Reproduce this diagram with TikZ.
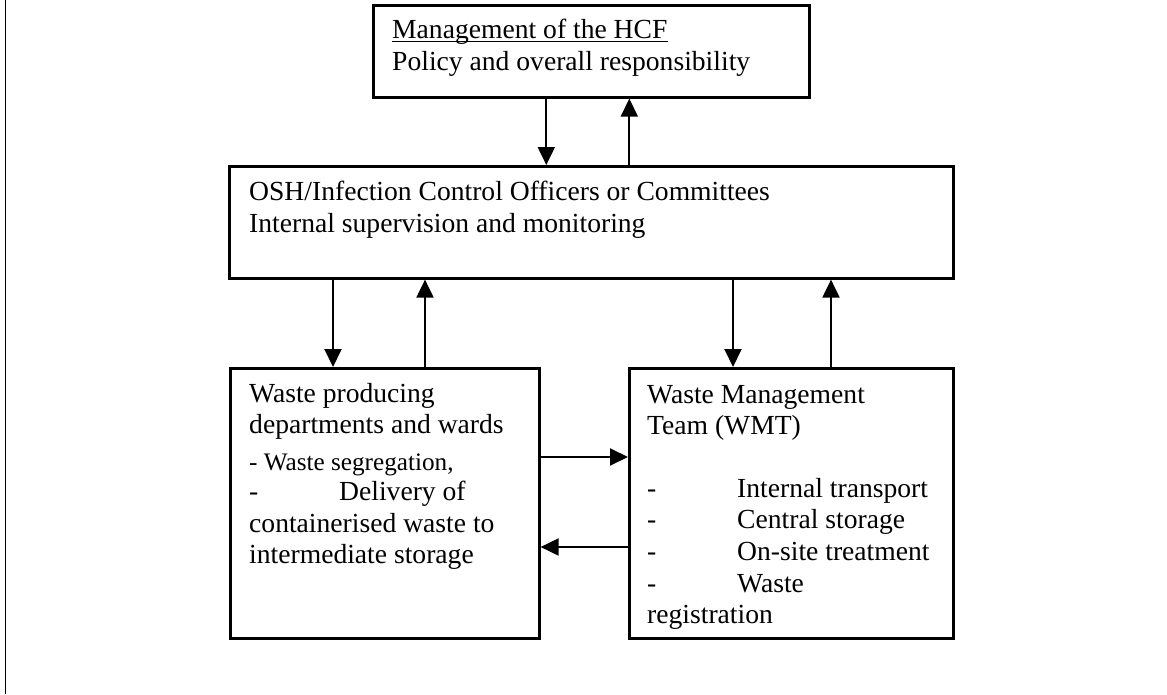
\documentclass[tikz,border=0pt]{standalone}
\usepackage{fontspec}
\setmainfont{Liberation Serif}
\usetikzlibrary{arrows.meta}

\tikzset{
  box/.style={draw=black, line width=2.6pt, inner sep=0pt, anchor=north west},
  txt/.style={anchor=base west, inner sep=0pt, font=\fontsize{27.6}{32}\selectfont},
  smalltxt/.style={anchor=base west, inner sep=0pt, font=\fontsize{25.2}{29}\selectfont},
  arr/.style={line width=2pt, -{Triangle[length=18pt, width=17pt]}},
  frame/.style={line width=1.2pt}
}

\begin{document}
\begin{tikzpicture}[x=1pt, y=-1pt]
  \useasboundingbox (0,0) rectangle (1167,694);

  % left margin rule
  \coordinate (ruletop) at (5.5,0);
  \coordinate (rulebot) at (5.5,694);
  \draw[frame] (ruletop) -- (rulebot);

  % boxes
  \node[box, minimum width=436pt, minimum height=92pt] (top) at (372,4) {};
  \node[box, minimum width=724pt, minimum height=112pt] (mid) at (228,165) {};
  \node[box, minimum width=309pt, minimum height=270pt] (dept) at (229,367) {};
  \node[box, minimum width=324pt, minimum height=270pt] (wmt) at (628,367) {};

  % management of the HCF
  \node[txt] (t1) at (392,38) {Management of the HCF};
  \draw[line width=1pt] ([yshift=-3.5pt]t1.base west) -- ([yshift=-3.5pt]t1.base east);
  \node[txt] (t2) at (392,70) {Policy and overall responsibility};

  % OSH / infection control
  \node[txt] (m1) at (249,200) {OSH/Infection Control Officers or Committees};
  \node[txt] (m2) at (249,232) {Internal supervision and monitoring};

  % waste producing departments
  \node[txt] (d1) at (249,402) {Waste producing};
  \node[txt] (d2) at (249,433) {departments and wards};
  \node[smalltxt] (d3) at (249,470) {- Waste segregation,};
  \node[txt] (d4) at (249,500) {-};
  \node[txt] (d5) at (339,500) {Delivery of};
  \node[txt] (d6) at (249,532) {containerised waste to};
  \node[txt] (d7) at (249,563) {intermediate storage};

  % waste management team
  \node[txt] (w1) at (647,403) {Waste Management};
  \node[txt] (w2) at (647,434) {Team (WMT)};
  \node[txt] (w3) at (647,497) {-};
  \node[txt] (w4) at (737,497) {Internal transport};
  \node[txt] (w5) at (647,528) {-};
  \node[txt] (w6) at (737,528) {Central storage};
  \node[txt] (w7) at (647,560) {-};
  \node[txt] (w8) at (737,560) {On-site treatment};
  \node[txt] (w9) at (647,592) {-};
  \node[txt] (w10) at (737,592) {Waste};
  \node[txt] (w11) at (647,623) {registration};

  % vertical links between management and OSH
  \draw[arr] ([xshift=-45pt]top.south) -- ([xshift=-45pt]top.south |- mid.north);
  \draw[arr] ([xshift=38pt]top.south |- mid.north) -- ([xshift=38pt]top.south);

  % links between OSH and the departments
  \draw[arr] ([xshift=104pt]dept.north west |- mid.south) -- ([xshift=104pt]dept.north west);
  \draw[arr] ([xshift=196pt]dept.north west) -- ([xshift=196pt]dept.north west |- mid.south);

  % links between OSH and the WMT
  \draw[arr] ([xshift=105pt]wmt.north west |- mid.south) -- ([xshift=105pt]wmt.north west);
  \draw[arr] ([xshift=203pt]wmt.north west) -- ([xshift=203pt]wmt.north west |- mid.south);

  % horizontal links between departments and WMT
  \draw[arr] ([yshift=-90pt]dept.north east) -- ([yshift=-90pt]dept.north east -| wmt.west);
  \draw[arr] ([yshift=-180pt]wmt.north west) -- ([yshift=-180pt]wmt.north west -| dept.east);
\end{tikzpicture}
\end{document}
